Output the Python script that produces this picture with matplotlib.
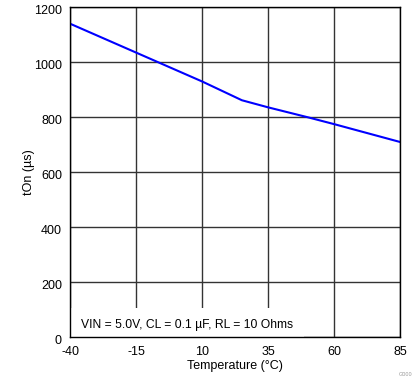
import matplotlib.pyplot as plt
from matplotlib.transforms import ScaledTranslation

temperature = [-40, -15, 10, 25, 35, 50, 60, 85]
t_on = [1140, 1035, 930, 862, 836, 800, 775, 710]
x_ticks = [-40, -15, 10, 35, 60, 85]
y_ticks = [0, 200, 400, 600, 800, 1000, 1200]

plt.rcParams['font.family'] = ['Liberation Sans', 'DejaVu Sans']
plt.rcParams['axes.unicode_minus'] = False

fig = plt.figure(figsize=(4.19, 3.82), dpi=100)
ax = fig.add_axes([70.3 / 419, 1 - 337.3 / 382, 330 / 419, 330 / 382])

ax.plot(temperature, t_on, color='#0000ff', lw=1.5, zorder=3)

ax.set_xlim(-40, 85)
ax.set_ylim(0, 1200)
ax.set_xticks(x_ticks)
ax.set_yticks(y_ticks)
ax.tick_params(length=0, labelsize=9, colors='black')
ax.tick_params(axis='x', pad=6)
ax.tick_params(axis='y', pad=6)
ax.grid(True, color='#333333', lw=1)
for s in ax.spines.values():
    s.set_color('black')
    s.set_linewidth(1)
    s.set_zorder(5)

# y tick labels sit a little below their gridlines in the reference
shift = ScaledTranslation(0, -2 / 100, fig.dpi_scale_trans)
for lbl in ax.get_yticklabels():
    lbl.set_transform(lbl.get_transform() + shift)

ax.set_xlabel('Temperature (°C)', fontsize=9, labelpad=2)
ax.set_ylabel('tOn (µs)', fontsize=9, labelpad=-1)

ax.text(-36, 45, 'VIN = 5.0V, CL = 0.1 µF, RL = 10 Ohms', fontsize=8.7,
        va='center', ha='left', zorder=4,
        bbox=dict(facecolor='white', edgecolor='none', pad=8))

fig.text(0.985, 0.012, 'G000', fontsize=4, color='#999999', ha='right', va='bottom')

fig.savefig('out.png', dpi=100)
